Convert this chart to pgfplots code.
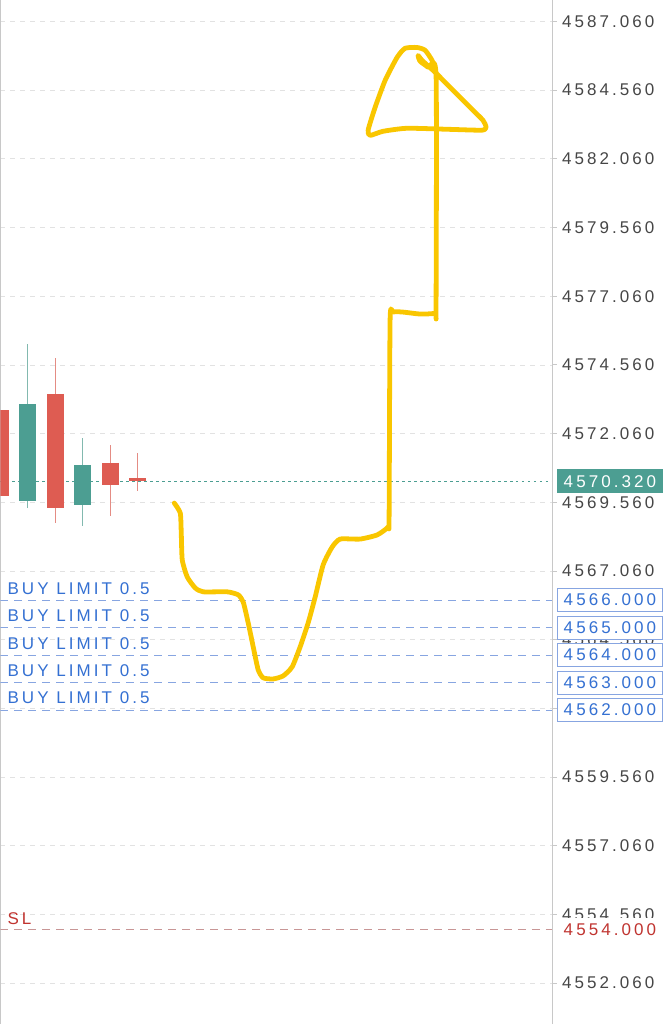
\documentclass[border=0pt]{standalone}
\usepackage{fontspec}
\setmainfont{Liberation Sans}[LetterSpace=18]
\usepackage{pgfplots}
\pgfplotsset{compat=1.18}
\definecolor{teal1}{RGB}{76,158,146}
\definecolor{red1}{RGB}{222,92,82}
\definecolor{tealw}{RGB}{130,185,175}
\definecolor{redw}{RGB}{228,140,132}
\definecolor{bluet}{RGB}{52,112,210}
\definecolor{bluel}{RGB}{135,165,225}
\definecolor{gridc}{RGB}{226,226,226}
\definecolor{axc}{RGB}{200,200,200}
\definecolor{tickc}{RGB}{70,70,70}
\definecolor{slred}{RGB}{192,52,48}
\definecolor{slline}{RGB}{200,150,150}
\definecolor{yel}{RGB}{249,198,0}
\tikzset{pricebox/.style={anchor=west, xshift=5pt, minimum width=105pt, minimum height=23pt, inner sep=0pt, font=\fontsize{17pt}{19pt}\selectfont, line width=0.9pt}}
\begin{document}
\begin{tikzpicture}
\begin{axis}[
  at={(0,0)}, anchor=south west,
  scale only axis, width=552pt, height=1024pt,
  xmin=0, xmax=552, ymin=4550.587, ymax=4587.8236,
  set layers=standard,
  clip mode=individual,
  axis x line=none,
  axis y line=box,
  axis line style={draw=axc, line width=0.8pt},
  xtick={55,137.5,220,302.5,385,467.5},
  xticklabels={},
  major x tick style={draw=none},
  xmajorgrids, ymajorgrids,
  major grid style={draw=gridc, dash pattern=on 5pt off 5pt, line width=0.6pt},
  ytick={4552.06,4554.56,4557.06,4559.56,4562.06,4564.56,4567.06,4569.56,4572.06,4574.56,4577.06,4579.56,4582.06,4584.56,4587.06},
  yticklabels={4552.060,4554.560,4557.060,4559.560,4562.060,4564.560,4567.060,4569.560,4572.060,4574.560,4577.060,4579.560,4582.060,4584.560,4587.060},
  ytick pos=right, yticklabel pos=right,
  tick align=outside, major tick length=5pt,
  major y tick style={draw=axc, line width=0.8pt},
  yticklabel style={font=\fontsize{17pt}{19pt}\selectfont, text=tickc, anchor=west, inner sep=0pt, xshift=5pt},
]
% horizontal order lines
\addplot[draw=bluel, line width=0.8pt, dash pattern=on 8pt off 6pt] coordinates {(0,4566)(552,4566)};
\addplot[draw=bluel, line width=0.8pt, dash pattern=on 8pt off 6pt] coordinates {(0,4565)(552,4565)};
\addplot[draw=bluel, line width=0.8pt, dash pattern=on 8pt off 6pt] coordinates {(0,4564)(552,4564)};
\addplot[draw=bluel, line width=0.8pt, dash pattern=on 8pt off 6pt] coordinates {(0,4563)(552,4563)};
\addplot[draw=bluel, line width=0.8pt, dash pattern=on 8pt off 6pt] coordinates {(0,4562)(552,4562)};
\addplot[draw=slline, line width=0.8pt, dash pattern=on 8pt off 6pt] coordinates {(0,4554)(552,4554)};
% current price
\addplot[draw=teal1, line width=1.6pt, dash pattern=on 2.5pt off 3.5pt] coordinates {(0,4570.32)(552,4570.32)};
% candles: wicks
\addplot[draw=tealw, line width=1.2pt] coordinates {(27.5,4569.35)(27.5,4575.31)};
\addplot[draw=redw, line width=1.2pt] coordinates {(55,4568.81)(55,4574.81)};
\addplot[draw=tealw, line width=1.2pt] coordinates {(82.5,4568.70)(82.5,4571.90)};
\addplot[draw=redw, line width=1.2pt] coordinates {(110,4569.06)(110,4571.64)};
\addplot[draw=redw, line width=1.2pt] coordinates {(137.5,4569.97)(137.5,4571.35)};
% candles: bodies
\addplot[draw=red1, line width=17pt] coordinates {(0,4572.91)(0,4569.79)};
\addplot[draw=teal1, line width=17pt] coordinates {(27.5,4569.61)(27.5,4573.13)};
\addplot[draw=red1, line width=17pt] coordinates {(55,4573.50)(55,4569.35)};
\addplot[draw=teal1, line width=17pt] coordinates {(82.5,4569.46)(82.5,4570.91)};
\addplot[draw=red1, line width=17pt] coordinates {(110,4570.99)(110,4570.19)};
\addplot[draw=red1, line width=17pt] coordinates {(137.5,4570.44)(137.5,4570.32)};
% hand-drawn yellow line
\addplot[draw=yel, line width=4.8pt, line join=round, line cap=round, smooth, tension=0.35] coordinates {
(174,4569.53)(180,4569.17)(181,4568.44)(182,4567.46)(187,4566.84)(195,4566.44)(203,4566.30)
(227,4566.30)(238,4566.19)(243,4565.93)(248,4565.17)(253,4564.30)(258,4563.46)(263,4563.17)
(273,4563.13)(283,4563.24)(292,4563.57)(300,4564.30)(308,4565.17)(315,4566.11)(323,4567.28)
(332,4567.93)(340,4568.22)(360,4568.22)(377,4568.37)(388,4568.66)(389,4569.02)(390,4576.19)
(393,4576.48)(403,4576.48)(420,4576.41)(435,4576.44)(436,4576.66)(436,4585.10)(428,4585.39)
(420,4585.61)(418,4585.82)(422,4585.64)(435,4585.21)(450,4584.66)(470,4583.93)(483,4583.46)
(486,4583.21)(482,4583.10)(450,4583.13)(407,4583.17)(383,4583.06)(370,4582.91)(368,4583.10)
(375,4583.93)(385,4584.91)(397,4585.75)(405,4586.08)(417,4586.11)(425,4586.01)(432,4585.64)
(436,4585.21)};
% left labels
\node[anchor=base west, text=bluet, font=\fontsize{17pt}{19pt}\selectfont, inner sep=0pt] at (axis cs:7,4566) [yshift=6pt] {BUY LIMIT 0.5};
\node[anchor=base west, text=bluet, font=\fontsize{17pt}{19pt}\selectfont, inner sep=0pt] at (axis cs:7,4565) [yshift=6pt] {BUY LIMIT 0.5};
\node[anchor=base west, text=bluet, font=\fontsize{17pt}{19pt}\selectfont, inner sep=0pt] at (axis cs:7,4564) [yshift=6pt] {BUY LIMIT 0.5};
\node[anchor=base west, text=bluet, font=\fontsize{17pt}{19pt}\selectfont, inner sep=0pt] at (axis cs:7,4563) [yshift=6pt] {BUY LIMIT 0.5};
\node[anchor=base west, text=bluet, font=\fontsize{17pt}{19pt}\selectfont, inner sep=0pt] at (axis cs:7,4562) [yshift=6pt] {BUY LIMIT 0.5};
\node[anchor=base west, text=slred, font=\fontsize{17pt}{19pt}\selectfont, inner sep=0pt] at (axis cs:7,4554) [yshift=5pt] {SL};
% right labels
\begin{pgfonlayer}{axis foreground}
\node[pricebox, fill=teal1, draw=teal1, text=white] at (axis cs:552,4570.32) {4570.320};
\node[pricebox, fill=white, draw=bluel, text=bluet] at (axis cs:552,4566) {4566.000};
\node[pricebox, fill=white, draw=bluel, text=bluet] at (axis cs:552,4565) {4565.000};
\node[pricebox, fill=white, draw=bluel, text=bluet] at (axis cs:552,4564) {4564.000};
\node[pricebox, fill=white, draw=bluel, text=bluet] at (axis cs:552,4563) {4563.000};
\node[pricebox, fill=white, draw=bluel, text=bluet] at (axis cs:552,4562) {4562.000};
\node[pricebox, fill=white, draw=none, text=slred] at (axis cs:552,4554) {4554.000};
\end{pgfonlayer}
\end{axis}
\path (0,0) rectangle (670pt,1024pt);
\end{tikzpicture}
\end{document}
